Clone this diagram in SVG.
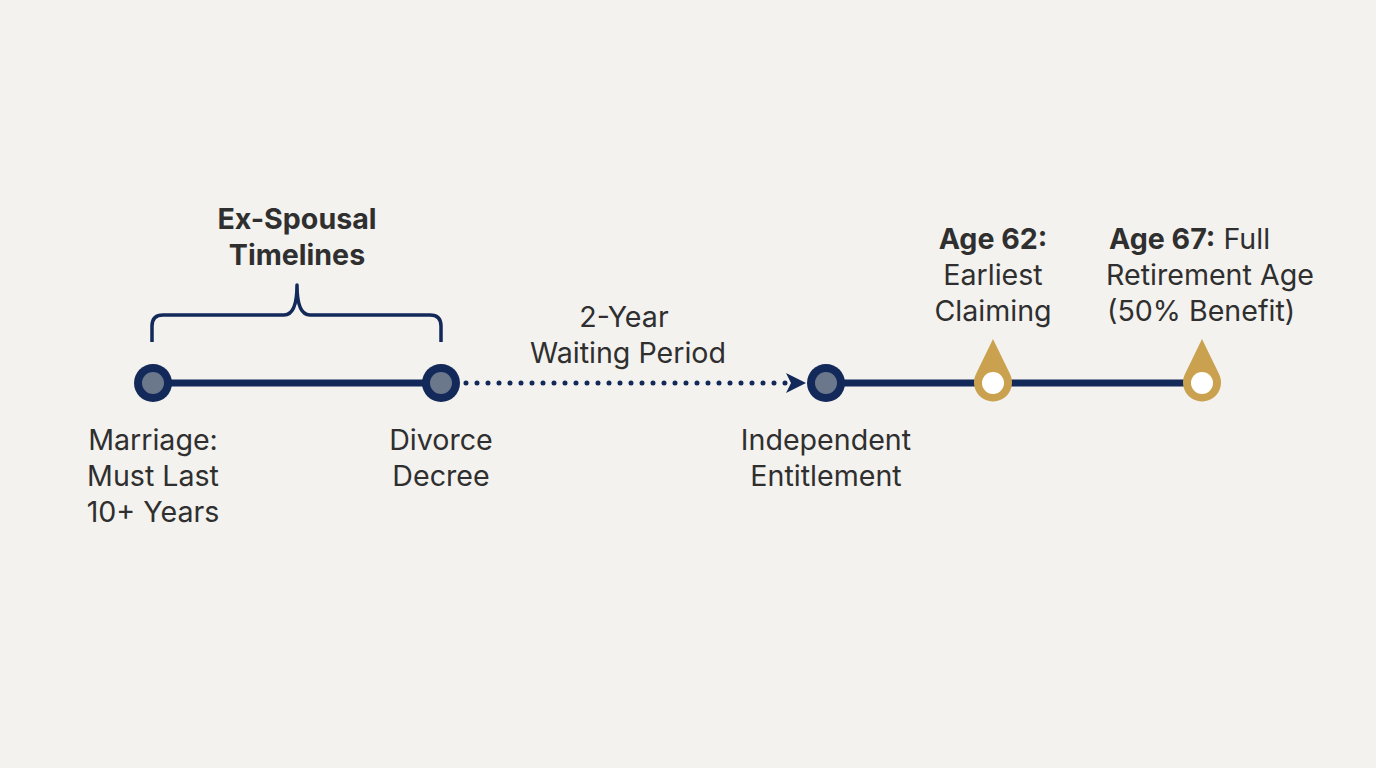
<svg xmlns="http://www.w3.org/2000/svg" width="1376" height="768" viewBox="0 0 1376 768">
<defs>
<style>
text{font-family:Inter,Roboto,"Liberation Sans",sans-serif;font-size:28.6px;fill:#2f2f2f}
.b{font-weight:bold}
.c{text-anchor:middle}
.nav{fill:#13295a}
.inner{fill:#6b778a}
.gold{fill:#c9a14f}
</style>
</defs>
<rect width="1376" height="768" fill="#f3f2ee"/>
<g id="connectors" fill="none" stroke="#13295a">
<line x1="153" y1="383" x2="441" y2="383" stroke-width="7"/>
<line x1="466" y1="383" x2="790" y2="383" stroke-width="5" stroke-dasharray="0 11" stroke-linecap="round"/>
<path d="M786,373 L806,383 L786,393 L791,383 Z" fill="#13295a" stroke="none"/>
<line x1="826" y1="383" x2="1202" y2="383" stroke-width="7"/>
<path d="M152,342 V326 Q152,315 163,315 H284 Q297,315 297,285 Q297,315 310,315 H430 Q441,315 441,326 V342" stroke-width="3.5" stroke-linejoin="round"/>
</g>
<g id="title">
<text class="b c" x="297" y="229">Ex-Spousal</text>
<text class="b c" x="297" y="265">Timelines</text>
</g>
<g id="marriage">
<circle cx="153" cy="383" r="19" class="nav"/>
<circle cx="153" cy="383" r="11" class="inner"/>
<text class="c" x="153" y="450">Marriage:</text>
<text class="c" x="153" y="486">Must Last</text>
<text class="c" x="153" y="522">10+ Years</text>
</g>
<g id="divorce">
<circle cx="441" cy="383" r="19" class="nav"/>
<circle cx="441" cy="383" r="11" class="inner"/>
<text class="c" x="441" y="450">Divorce</text>
<text class="c" x="441" y="486">Decree</text>
</g>
<g id="waiting">
<text class="c" x="624" y="327">2-Year</text>
<text class="c" x="628" y="363">Waiting Period</text>
</g>
<g id="independent">
<circle cx="826" cy="383" r="19" class="nav"/>
<circle cx="826" cy="383" r="11" class="inner"/>
<text class="c" x="826" y="450">Independent</text>
<text class="c" x="826" y="486">Entitlement</text>
</g>
<g id="age62">
<path d="M993,339 L1010,374 A19,19 0 1 1 976,374 Z" class="gold"/>
<circle cx="993" cy="383" r="11" fill="#ffffff"/>
<text class="c" x="993" y="249"><tspan class="b">Age 62:</tspan></text>
<text class="c" x="993" y="285">Earliest</text>
<text class="c" x="993" y="321">Claiming</text>
</g>
<g id="age67">
<path d="M1202,339 L1219,374 A19,19 0 1 1 1185,374 Z" class="gold"/>
<circle cx="1202" cy="383" r="11" fill="#ffffff"/>
<text x="1109" y="249"><tspan class="b">Age 67:</tspan> Full</text>
<text x="1106" y="285">Retirement Age</text>
<text x="1107" y="321">(50% Benefit)</text>
</g>
</svg>
